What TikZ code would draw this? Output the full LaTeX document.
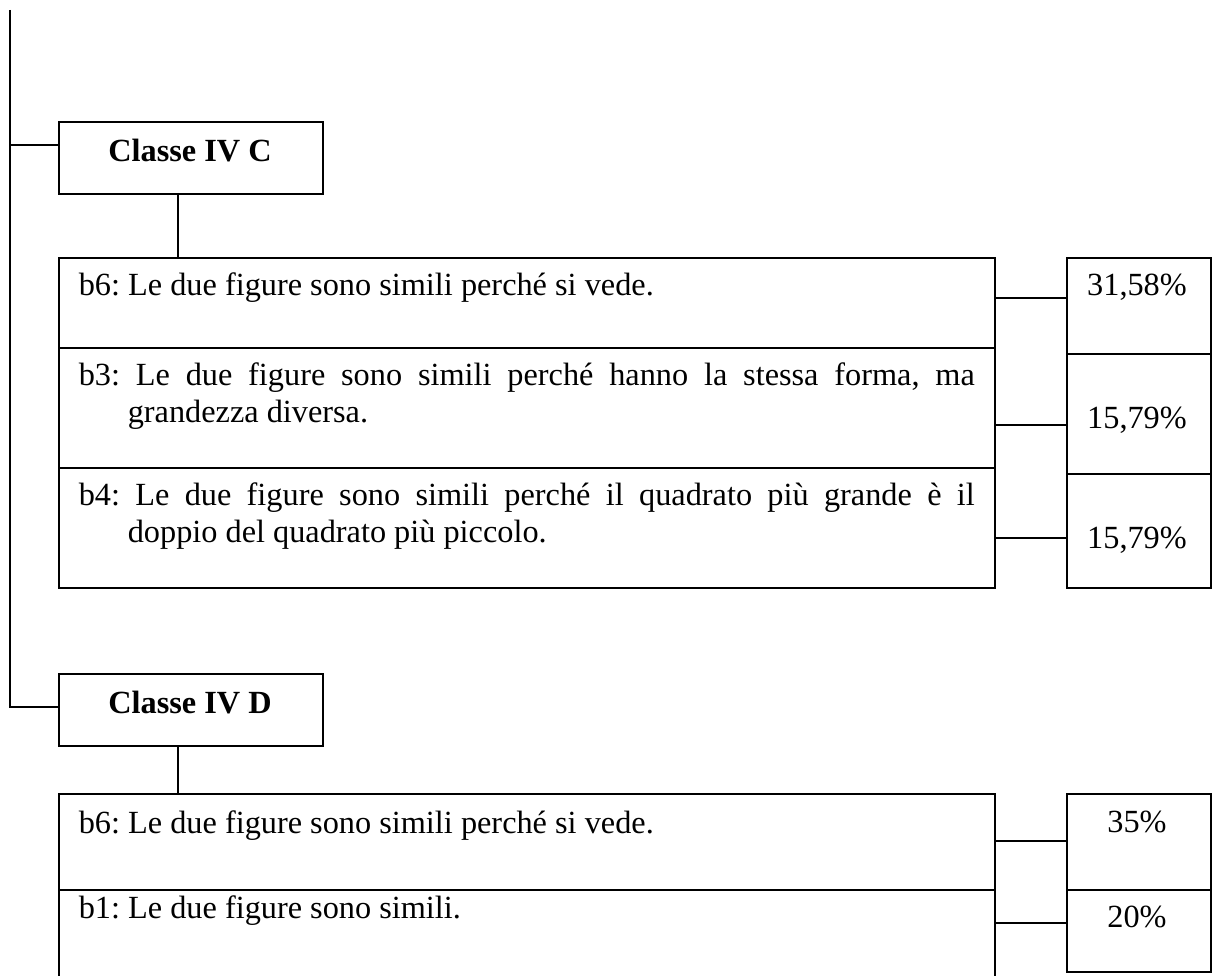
\documentclass[tikz,border=0pt]{standalone}
\usepackage{fontspec}
\setmainfont{Liberation Serif}
\frenchspacing
\begin{document}
\begin{tikzpicture}[x=1pt,y=-1pt,line width=1.6pt,
  box/.style={draw,rectangle,inner sep=0pt,anchor=north west},
  txt/.style={anchor=base west,inner sep=0pt,font=\fontsize{32.3}{37}\selectfont\frenchspacing},
  pct/.style={anchor=base,inner sep=0pt,font=\fontsize{32.3}{37}\selectfont},
  head/.style={anchor=base,inner sep=0pt,font=\fontsize{32.3}{37}\selectfont\bfseries}]
\useasboundingbox (0,0) rectangle (1215,976);
\clip (0,0) rectangle (1215,976);
% class boxes
\node[box,minimum width=264pt,minimum height=72pt] (hC) at (58,121) {};
\node[box,minimum width=264pt,minimum height=72pt] (hD) at (58,673) {};
\node[head] (hCt) at (190,162) {Classe IV C};
\node[head] (hDt) at (190,713) {Classe IV D};
% table C
\node[box,minimum width=936pt,minimum height=90pt] (rC1) at (58,257) {};
\node[box,minimum width=936pt,minimum height=120pt] (rC2) at (58,347) {};
\node[box,minimum width=936pt,minimum height=120pt] (rC3) at (58,467) {};
\node[box,minimum width=144pt,minimum height=96pt] (pC1) at (1066,257) {};
\node[box,minimum width=144pt,minimum height=120pt] (pC2) at (1066,353) {};
\node[box,minimum width=144pt,minimum height=114pt] (pC3) at (1066,473) {};
% table D
\node[box,minimum width=936pt,minimum height=96pt] (rD1) at (58,793) {};
\node[box,minimum width=936pt,minimum height=110pt] (rD2) at (58,889) {};
\node[box,minimum width=144pt,minimum height=96pt] (pD1) at (1066,793) {};
\node[box,minimum width=144pt,minimum height=82pt] (pD2) at (1066,889) {};
% texts
\node[txt] (tC1) at (78,295) {b6: Le due figure sono simili perché si vede.};
\node[txt] (tC2a) at (78,385) {\hbox to 896pt{b3: Le due figure sono simili perché hanno la stessa forma, ma}};
\node[txt] (tC2b) at (127,422) {grandezza diversa.};
\node[txt] (tC3a) at (78,505) {\hbox to 896pt{b4: Le due figure sono simili perché il quadrato più grande è il}};
\node[txt] (tC3b) at (127,542) {doppio del quadrato più piccolo.};
\node[txt] (tD1) at (78,833) {b6: Le due figure sono simili perché si vede.};
\node[txt] (tD2) at (78,918) {b1: Le due figure sono simili.};
\node[pct] (vC1) at (1137,295) {31,58\%};
\node[pct] (vC2) at (1137,428) {15,79\%};
\node[pct] (vC3) at (1137,548) {15,79\%};
\node[pct] (vD1) at (1137,832) {35\%};
\node[pct] (vD2) at (1137,927) {20\%};
% connectors
\coordinate (top) at (10,10);
\coordinate (jC) at (10,145);
\coordinate (jD) at (10,707);
\draw (top) -- (jD) -- (jD -| hD.west);
\draw (jC) -- (jC -| hC.west);
\coordinate (vC) at (178,193);
\coordinate (vD) at (178,745);
\draw (vC) -- (vC |- rC1.north);
\draw (vD) -- (vD |- rD1.north);
\coordinate (k1) at (994,298);
\coordinate (k2) at (994,425);
\coordinate (k3) at (994,538);
\coordinate (k4) at (994,841);
\coordinate (k5) at (994,923);
\draw (k1) -- (k1 -| pC1.west);
\draw (k2) -- (k2 -| pC2.west);
\draw (k3) -- (k3 -| pC3.west);
\draw (k4) -- (k4 -| pD1.west);
\draw (k5) -- (k5 -| pD2.west);
\end{tikzpicture}
\end{document}
